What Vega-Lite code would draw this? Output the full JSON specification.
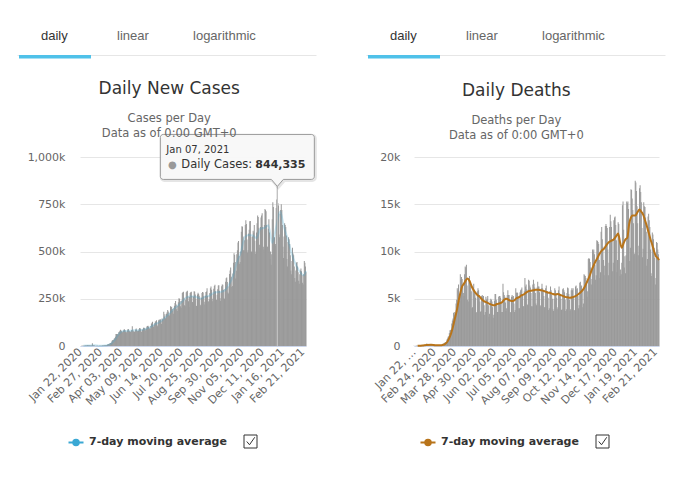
{
"$schema": "https://vega.github.io/schema/vega-lite/v6.json",
"background": "white",
"padding": {"left": 17, "top": 17, "right": 0, "bottom": 0},
"config": {
 "view": {"stroke": null},
 "font": "DejaVu Sans",
 "axis": {"labelFont": "DejaVu Sans", "labelFontSize": 11, "labelColor": "#666666", "labelOverlap": false},
 "title": {"font": "DejaVu Sans", "fontSize": 17, "fontWeight": "normal", "color": "#333333", "subtitleFont": "DejaVu Sans", "subtitleFontSize": 11.5, "subtitleColor": "#666666", "subtitleLineHeight": 15, "subtitlePadding": 15, "offset": 9, "anchor": "middle", "frame": "bounds"}
},
"datasets": {
"daily": [
{"date":"2020-01-22","cases":580,"deaths":17},{"date":"2020-01-23","cases":100,"deaths":1},{"date":"2020-01-24","cases":580,"deaths":8},{"date":"2020-01-25","cases":700,"deaths":16},{"date":"2020-01-26","cases":780,"deaths":14},{"date":"2020-01-27","cases":1480,"deaths":26},{"date":"2020-01-28","cases":1750,"deaths":26},
{"date":"2020-01-29","cases":1750,"deaths":38},{"date":"2020-01-30","cases":1980,"deaths":43},{"date":"2020-01-31","cases":2100,"deaths":46},{"date":"2020-02-01","cases":2600,"deaths":45},{"date":"2020-02-02","cases":2800,"deaths":57},{"date":"2020-02-03","cases":3200,"deaths":64},{"date":"2020-02-04","cases":3900,"deaths":66},
{"date":"2020-02-05","cases":3700,"deaths":73},{"date":"2020-02-06","cases":3200,"deaths":73},{"date":"2020-02-07","cases":3400,"deaths":86},{"date":"2020-02-08","cases":2700,"deaths":89},{"date":"2020-02-09","cases":3000,"deaths":97},{"date":"2020-02-10","cases":2500,"deaths":108},{"date":"2020-02-11","cases":2000,"deaths":97},
{"date":"2020-02-12","cases":2050,"deaths":254},{"date":"2020-02-13","cases":15150,"deaths":13},{"date":"2020-02-14","cases":5100,"deaths":143},{"date":"2020-02-15","cases":2600,"deaths":142},{"date":"2020-02-16","cases":2100,"deaths":106},{"date":"2020-02-17","cases":2100,"deaths":98},{"date":"2020-02-18","cases":1900,"deaths":139},
{"date":"2020-02-19","cases":550,"deaths":115},{"date":"2020-02-20","cases":1000,"deaths":125},{"date":"2020-02-21","cases":1000,"deaths":4},{"date":"2020-02-22","cases":1700,"deaths":207},{"date":"2020-02-23","cases":1400,"deaths":11},{"date":"2020-02-24","cases":600,"deaths":160},{"date":"2020-02-25","cases":900,"deaths":80},
{"date":"2020-02-26","cases":1100,"deaths":59},{"date":"2020-02-27","cases":1400,"deaths":44},{"date":"2020-02-28","cases":1900,"deaths":60},{"date":"2020-02-29","cases":1800,"deaths":68},{"date":"2020-03-01","cases":1900,"deaths":69},{"date":"2020-03-02","cases":2200,"deaths":72},{"date":"2020-03-03","cases":2400,"deaths":95},
{"date":"2020-03-04","cases":2600,"deaths":86},{"date":"2020-03-05","cases":2800,"deaths":98},{"date":"2020-03-06","cases":4000,"deaths":101},{"date":"2020-03-07","cases":3900,"deaths":103},{"date":"2020-03-08","cases":4000,"deaths":102},{"date":"2020-03-09","cases":4000,"deaths":207},{"date":"2020-03-10","cases":4500,"deaths":230},
{"date":"2020-03-11","cases":7500,"deaths":272},{"date":"2020-03-12","cases":7800,"deaths":339},{"date":"2020-03-13","cases":11000,"deaths":347},{"date":"2020-03-14","cases":11000,"deaths":433},{"date":"2020-03-15","cases":13300,"deaths":421},{"date":"2020-03-16","cases":16500,"deaths":677},{"date":"2020-03-17","cases":14000,"deaths":798},
{"date":"2020-03-18","cases":18000,"deaths":968},{"date":"2020-03-19","cases":28000,"deaths":1039},{"date":"2020-03-20","cases":31000,"deaths":1380},{"date":"2020-03-21","cases":32000,"deaths":1654},{"date":"2020-03-22","cases":33000,"deaths":1690},{"date":"2020-03-23","cases":40000,"deaths":1750},{"date":"2020-03-24","cases":41000,"deaths":2371},
{"date":"2020-03-25","cases":49000,"deaths":2700},{"date":"2020-03-26","cases":63000,"deaths":2900},{"date":"2020-03-27","cases":64000,"deaths":3500},{"date":"2020-03-28","cases":64000,"deaths":3600},{"date":"2020-03-29","cases":62000,"deaths":3300},{"date":"2020-03-30","cases":62000,"deaths":3200},{"date":"2020-03-31","cases":73000,"deaths":4500},
{"date":"2020-04-01","cases":76000,"deaths":4900},{"date":"2020-04-02","cases":81000,"deaths":6100},{"date":"2020-04-03","cases":86000,"deaths":5900},{"date":"2020-04-04","cases":82000,"deaths":6500},{"date":"2020-04-05","cases":78000,"deaths":5000},{"date":"2020-04-06","cases":72000,"deaths":4800},{"date":"2020-04-07","cases":76000,"deaths":7600},
{"date":"2020-04-08","cases":80000,"deaths":7000},{"date":"2020-04-09","cases":86000,"deaths":7300},{"date":"2020-04-10","cases":89000,"deaths":7100},{"date":"2020-04-11","cases":84000,"deaths":6300},{"date":"2020-04-12","cases":77000,"deaths":5600},{"date":"2020-04-13","cases":71000,"deaths":5300},{"date":"2020-04-14","cases":73000,"deaths":7600},
{"date":"2020-04-15","cases":80000,"deaths":8400},{"date":"2020-04-16","cases":87000,"deaths":8300},{"date":"2020-04-17","cases":90000,"deaths":8600},{"date":"2020-04-18","cases":82000,"deaths":6400},{"date":"2020-04-19","cases":78000,"deaths":4900},{"date":"2020-04-20","cases":73000,"deaths":4700},{"date":"2020-04-21","cases":75000,"deaths":7000},
{"date":"2020-04-22","cases":79000,"deaths":7400},{"date":"2020-04-23","cases":85000,"deaths":6700},{"date":"2020-04-24","cases":105000,"deaths":6400},{"date":"2020-04-25","cases":86000,"deaths":5800},{"date":"2020-04-26","cases":78000,"deaths":4000},{"date":"2020-04-27","cases":72000,"deaths":4100},{"date":"2020-04-28","cases":75000,"deaths":6200},
{"date":"2020-04-29","cases":78000,"deaths":6600},{"date":"2020-04-30","cases":87000,"deaths":5700},{"date":"2020-05-01","cases":92000,"deaths":5600},{"date":"2020-05-02","cases":85000,"deaths":5100},{"date":"2020-05-03","cases":79000,"deaths":3500},{"date":"2020-05-04","cases":76000,"deaths":3600},{"date":"2020-05-05","cases":81000,"deaths":5800},
{"date":"2020-05-06","cases":88000,"deaths":6100},{"date":"2020-05-07","cases":95000,"deaths":5900},{"date":"2020-05-08","cases":94000,"deaths":5400},{"date":"2020-05-09","cases":88000,"deaths":4700},{"date":"2020-05-10","cases":76000,"deaths":3600},{"date":"2020-05-11","cases":76000,"deaths":3700},{"date":"2020-05-12","cases":86000,"deaths":5300},
{"date":"2020-05-13","cases":88000,"deaths":5400},{"date":"2020-05-14","cases":97000,"deaths":5200},{"date":"2020-05-15","cases":97000,"deaths":5300},{"date":"2020-05-16","cases":94000,"deaths":4300},{"date":"2020-05-17","cases":81000,"deaths":3300},{"date":"2020-05-18","cases":89000,"deaths":3600},{"date":"2020-05-19","cases":92000,"deaths":5200},
{"date":"2020-05-20","cases":103000,"deaths":4900},{"date":"2020-05-21","cases":106000,"deaths":5000},{"date":"2020-05-22","cases":107000,"deaths":5300},{"date":"2020-05-23","cases":102000,"deaths":4300},{"date":"2020-05-24","cases":96000,"deaths":3100},{"date":"2020-05-25","cases":90000,"deaths":3400},{"date":"2020-05-26","cases":93000,"deaths":4800},
{"date":"2020-05-27","cases":106000,"deaths":5000},{"date":"2020-05-28","cases":118000,"deaths":4900},{"date":"2020-05-29","cases":123000,"deaths":4700},{"date":"2020-05-30","cases":128000,"deaths":4100},{"date":"2020-05-31","cases":109000,"deaths":3000},{"date":"2020-06-01","cases":100000,"deaths":3300},{"date":"2020-06-02","cases":112000,"deaths":4800},
{"date":"2020-06-03","cases":120000,"deaths":5500},{"date":"2020-06-04","cases":130000,"deaths":5500},{"date":"2020-06-05","cases":130000,"deaths":4900},{"date":"2020-06-06","cases":136000,"deaths":4400},{"date":"2020-06-07","cases":110000,"deaths":3600},{"date":"2020-06-08","cases":105000,"deaths":3600},{"date":"2020-06-09","cases":125000,"deaths":5200},
{"date":"2020-06-10","cases":136000,"deaths":5300},{"date":"2020-06-11","cases":140000,"deaths":5300},{"date":"2020-06-12","cases":136000,"deaths":5100},{"date":"2020-06-13","cases":142000,"deaths":4600},{"date":"2020-06-14","cases":133000,"deaths":3600},{"date":"2020-06-15","cases":117000,"deaths":3600},{"date":"2020-06-16","cases":145000,"deaths":6600},
{"date":"2020-06-17","cases":140000,"deaths":5700},{"date":"2020-06-18","cases":141000,"deaths":5400},{"date":"2020-06-19","cases":181000,"deaths":5200},{"date":"2020-06-20","cases":156000,"deaths":4600},{"date":"2020-06-21","cases":168000,"deaths":3700},{"date":"2020-06-22","cases":146000,"deaths":4000},{"date":"2020-06-23","cases":150000,"deaths":5400},
{"date":"2020-06-24","cases":170000,"deaths":5900},{"date":"2020-06-25","cases":178000,"deaths":5400},{"date":"2020-06-26","cases":190000,"deaths":5400},{"date":"2020-06-27","cases":183000,"deaths":5000},{"date":"2020-06-28","cases":163000,"deaths":3600},{"date":"2020-06-29","cases":162000,"deaths":3500},{"date":"2020-06-30","cases":173000,"deaths":5200},
{"date":"2020-07-01","cases":210000,"deaths":5400},{"date":"2020-07-02","cases":205000,"deaths":5200},{"date":"2020-07-03","cases":208000,"deaths":5300},{"date":"2020-07-04","cases":196000,"deaths":4500},{"date":"2020-07-05","cases":187000,"deaths":3600},{"date":"2020-07-06","cases":170000,"deaths":3800},{"date":"2020-07-07","cases":200000,"deaths":6100},
{"date":"2020-07-08","cases":213000,"deaths":5600},{"date":"2020-07-09","cases":228000,"deaths":5700},{"date":"2020-07-10","cases":238000,"deaths":5600},{"date":"2020-07-11","cases":220000,"deaths":5300},{"date":"2020-07-12","cases":194000,"deaths":4000},{"date":"2020-07-13","cases":185000,"deaths":4000},{"date":"2020-07-14","cases":213000,"deaths":5700},
{"date":"2020-07-15","cases":231000,"deaths":5900},{"date":"2020-07-16","cases":252000,"deaths":6000},{"date":"2020-07-17","cases":250000,"deaths":6200},{"date":"2020-07-18","cases":238000,"deaths":5500},{"date":"2020-07-19","cases":210000,"deaths":4200},{"date":"2020-07-20","cases":203000,"deaths":4200},{"date":"2020-07-21","cases":240000,"deaths":5800},
{"date":"2020-07-22","cases":280000,"deaths":7200},{"date":"2020-07-23","cases":284000,"deaths":6300},{"date":"2020-07-24","cases":287000,"deaths":6500},{"date":"2020-07-25","cases":255000,"deaths":6000},{"date":"2020-07-26","cases":216000,"deaths":4400},{"date":"2020-07-27","cases":210000,"deaths":4300},{"date":"2020-07-28","cases":245000,"deaths":7000},
{"date":"2020-07-29","cases":285000,"deaths":6900},{"date":"2020-07-30","cases":289000,"deaths":6400},{"date":"2020-07-31","cases":292000,"deaths":6200},{"date":"2020-08-01","cases":262000,"deaths":5600},{"date":"2020-08-02","cases":237000,"deaths":4200},{"date":"2020-08-03","cases":207000,"deaths":4200},{"date":"2020-08-04","cases":260000,"deaths":6500},
{"date":"2020-08-05","cases":281000,"deaths":7000},{"date":"2020-08-06","cases":284000,"deaths":6600},{"date":"2020-08-07","cases":287000,"deaths":6200},{"date":"2020-08-08","cases":264000,"deaths":5600},{"date":"2020-08-09","cases":233000,"deaths":4500},{"date":"2020-08-10","cases":225000,"deaths":4300},{"date":"2020-08-11","cases":262000,"deaths":6200},
{"date":"2020-08-12","cases":290000,"deaths":6800},{"date":"2020-08-13","cases":287000,"deaths":6300},{"date":"2020-08-14","cases":273000,"deaths":6300},{"date":"2020-08-15","cases":250000,"deaths":5700},{"date":"2020-08-16","cases":212000,"deaths":4300},{"date":"2020-08-17","cases":213000,"deaths":4200},{"date":"2020-08-18","cases":272000,"deaths":6100},
{"date":"2020-08-19","cases":282000,"deaths":6600},{"date":"2020-08-20","cases":275000,"deaths":6100},{"date":"2020-08-21","cases":266000,"deaths":5900},{"date":"2020-08-22","cases":252000,"deaths":5300},{"date":"2020-08-23","cases":218000,"deaths":4100},{"date":"2020-08-24","cases":210000,"deaths":4100},{"date":"2020-08-25","cases":255000,"deaths":6100},
{"date":"2020-08-26","cases":281000,"deaths":6400},{"date":"2020-08-27","cases":286000,"deaths":5800},{"date":"2020-08-28","cases":283000,"deaths":5600},{"date":"2020-08-29","cases":263000,"deaths":5100},{"date":"2020-08-30","cases":220000,"deaths":3800},{"date":"2020-08-31","cases":234000,"deaths":4000},{"date":"2020-09-01","cases":266000,"deaths":5800},
{"date":"2020-09-02","cases":286000,"deaths":6300},{"date":"2020-09-03","cases":288000,"deaths":5900},{"date":"2020-09-04","cases":306000,"deaths":5400},{"date":"2020-09-05","cases":264000,"deaths":5000},{"date":"2020-09-06","cases":235000,"deaths":3900},{"date":"2020-09-07","cases":235000,"deaths":3700},{"date":"2020-09-08","cases":247000,"deaths":5000},
{"date":"2020-09-09","cases":280000,"deaths":6100},{"date":"2020-09-10","cases":305000,"deaths":5900},{"date":"2020-09-11","cases":315000,"deaths":5600},{"date":"2020-09-12","cases":298000,"deaths":5100},{"date":"2020-09-13","cases":250000,"deaths":3900},{"date":"2020-09-14","cases":237000,"deaths":4100},{"date":"2020-09-15","cases":276000,"deaths":5900},
{"date":"2020-09-16","cases":303000,"deaths":6300},{"date":"2020-09-17","cases":318000,"deaths":5600},{"date":"2020-09-18","cases":324000,"deaths":5500},{"date":"2020-09-19","cases":290000,"deaths":5000},{"date":"2020-09-20","cases":245000,"deaths":3800},{"date":"2020-09-21","cases":243000,"deaths":3900},{"date":"2020-09-22","cases":271000,"deaths":6000},
{"date":"2020-09-23","cases":300000,"deaths":6100},{"date":"2020-09-24","cases":320000,"deaths":5900},{"date":"2020-09-25","cases":322000,"deaths":5700},{"date":"2020-09-26","cases":292000,"deaths":4900},{"date":"2020-09-27","cases":254000,"deaths":3700},{"date":"2020-09-28","cases":239000,"deaths":3900},{"date":"2020-09-29","cases":283000,"deaths":5600},
{"date":"2020-09-30","cases":316000,"deaths":6200},{"date":"2020-10-01","cases":326000,"deaths":6100},{"date":"2020-10-02","cases":324000,"deaths":5500},{"date":"2020-10-03","cases":297000,"deaths":4900},{"date":"2020-10-04","cases":254000,"deaths":3700},{"date":"2020-10-05","cases":249000,"deaths":3900},{"date":"2020-10-06","cases":302000,"deaths":5900},
{"date":"2020-10-07","cases":340000,"deaths":6100},{"date":"2020-10-08","cases":358000,"deaths":5900},{"date":"2020-10-09","cases":363000,"deaths":6100},{"date":"2020-10-10","cases":338000,"deaths":5100},{"date":"2020-10-11","cases":283000,"deaths":3800},{"date":"2020-10-12","cases":278000,"deaths":3700},{"date":"2020-10-13","cases":315000,"deaths":6300},
{"date":"2020-10-14","cases":381000,"deaths":6400},{"date":"2020-10-15","cases":400000,"deaths":6000},{"date":"2020-10-16","cases":416000,"deaths":6100},{"date":"2020-10-17","cases":367000,"deaths":5300},{"date":"2020-10-18","cases":312000,"deaths":4000},{"date":"2020-10-19","cases":318000,"deaths":4300},{"date":"2020-10-20","cases":384000,"deaths":6700},
{"date":"2020-10-21","cases":441000,"deaths":6800},{"date":"2020-10-22","cases":491000,"deaths":6300},{"date":"2020-10-23","cases":481000,"deaths":6400},{"date":"2020-10-24","cases":445000,"deaths":5900},{"date":"2020-10-25","cases":357000,"deaths":4100},{"date":"2020-10-26","cases":398000,"deaths":4500},{"date":"2020-10-27","cases":485000,"deaths":7600},
{"date":"2020-10-28","cases":506000,"deaths":7500},{"date":"2020-10-29","cases":547000,"deaths":7400},{"date":"2020-10-30","cases":555000,"deaths":7200},{"date":"2020-10-31","cases":477000,"deaths":6600},{"date":"2020-11-01","cases":435000,"deaths":5200},{"date":"2020-11-02","cases":445000,"deaths":5800},{"date":"2020-11-03","cases":500000,"deaths":9200},
{"date":"2020-11-04","cases":604000,"deaths":9300},{"date":"2020-11-05","cases":633000,"deaths":9200},{"date":"2020-11-06","cases":631000,"deaths":8900},{"date":"2020-11-07","cases":580000,"deaths":8300},{"date":"2020-11-08","cases":506000,"deaths":6500},{"date":"2020-11-09","cases":506000,"deaths":7100},{"date":"2020-11-10","cases":560000,"deaths":10200},
{"date":"2020-11-11","cases":640000,"deaths":10000},{"date":"2020-11-12","cases":665000,"deaths":10200},{"date":"2020-11-13","cases":646000,"deaths":9700},{"date":"2020-11-14","cases":563000,"deaths":8600},{"date":"2020-11-15","cases":495000,"deaths":7000},{"date":"2020-11-16","cases":506000,"deaths":7500},{"date":"2020-11-17","cases":595000,"deaths":11200},
{"date":"2020-11-18","cases":615000,"deaths":11100},{"date":"2020-11-19","cases":660000,"deaths":11000},{"date":"2020-11-20","cases":661000,"deaths":10800},{"date":"2020-11-21","cases":578000,"deaths":9100},{"date":"2020-11-22","cases":500000,"deaths":7200},{"date":"2020-11-23","cases":496000,"deaths":7800},{"date":"2020-11-24","cases":580000,"deaths":12100},
{"date":"2020-11-25","cases":610000,"deaths":12600},{"date":"2020-11-26","cases":600000,"deaths":11300},{"date":"2020-11-27","cases":640000,"deaths":10500},{"date":"2020-11-28","cases":557000,"deaths":9100},{"date":"2020-11-29","cases":488000,"deaths":7500},{"date":"2020-11-30","cases":500000,"deaths":8500},{"date":"2020-12-01","cases":600000,"deaths":12700},
{"date":"2020-12-02","cases":650000,"deaths":12900},{"date":"2020-12-03","cases":690000,"deaths":12700},{"date":"2020-12-04","cases":683000,"deaths":12500},{"date":"2020-12-05","cases":626000,"deaths":10200},{"date":"2020-12-06","cases":536000,"deaths":7500},{"date":"2020-12-07","cases":520000,"deaths":8800},{"date":"2020-12-08","cases":630000,"deaths":12600},
{"date":"2020-12-09","cases":680000,"deaths":13900},{"date":"2020-12-10","cases":690000,"deaths":13200},{"date":"2020-12-11","cases":702000,"deaths":12600},{"date":"2020-12-12","cases":630000,"deaths":11100},{"date":"2020-12-13","cases":525000,"deaths":7900},{"date":"2020-12-14","cases":510000,"deaths":8800},{"date":"2020-12-15","cases":640000,"deaths":13300},
{"date":"2020-12-16","cases":725000,"deaths":13600},{"date":"2020-12-17","cases":720000,"deaths":13700},{"date":"2020-12-18","cases":713000,"deaths":12800},{"date":"2020-12-19","cases":640000,"deaths":11200},{"date":"2020-12-20","cases":525000,"deaths":7800},{"date":"2020-12-21","cases":525000,"deaths":9100},{"date":"2020-12-22","cases":620000,"deaths":13100},
{"date":"2020-12-23","cases":670000,"deaths":12900},{"date":"2020-12-24","cases":600000,"deaths":11400},{"date":"2020-12-25","cases":460000,"deaths":7400},{"date":"2020-12-26","cases":500000,"deaths":8100},{"date":"2020-12-27","cases":430000,"deaths":7600},{"date":"2020-12-28","cases":485000,"deaths":8800},{"date":"2020-12-29","cases":670000,"deaths":14900},
{"date":"2020-12-30","cases":760000,"deaths":15300},{"date":"2020-12-31","cases":736000,"deaths":12300},{"date":"2021-01-01","cases":540000,"deaths":8300},{"date":"2021-01-02","cases":575000,"deaths":9500},{"date":"2021-01-03","cases":530000,"deaths":7700},{"date":"2021-01-04","cases":540000,"deaths":9600},{"date":"2021-01-05","cases":730000,"deaths":15300},
{"date":"2021-01-06","cases":775000,"deaths":15100},{"date":"2021-01-07","cases":844335,"deaths":15300},{"date":"2021-01-08","cases":757000,"deaths":14500},{"date":"2021-01-09","cases":744000,"deaths":12900},{"date":"2021-01-10","cases":590000,"deaths":9000},{"date":"2021-01-11","cases":575000,"deaths":10400},{"date":"2021-01-12","cases":700000,"deaths":16600},
{"date":"2021-01-13","cases":720000,"deaths":16500},{"date":"2021-01-14","cases":750000,"deaths":15600},{"date":"2021-01-15","cases":720000,"deaths":14400},{"date":"2021-01-16","cases":640000,"deaths":13000},{"date":"2021-01-17","cases":525000,"deaths":9600},{"date":"2021-01-18","cases":465000,"deaths":9800},{"date":"2021-01-19","cases":580000,"deaths":17500},
{"date":"2021-01-20","cases":650000,"deaths":17300},{"date":"2021-01-21","cases":640000,"deaths":16400},{"date":"2021-01-22","cases":630000,"deaths":14800},{"date":"2021-01-23","cases":585000,"deaths":13000},{"date":"2021-01-24","cases":460000,"deaths":9600},{"date":"2021-01-25","cases":420000,"deaths":10600},{"date":"2021-01-26","cases":550000,"deaths":16700},
{"date":"2021-01-27","cases":575000,"deaths":17000},{"date":"2021-01-28","cases":565000,"deaths":16300},{"date":"2021-01-29","cases":540000,"deaths":15200},{"date":"2021-01-30","cases":480000,"deaths":12500},{"date":"2021-01-31","cases":400000,"deaths":9400},{"date":"2021-02-01","cases":380000,"deaths":10300},{"date":"2021-02-02","cases":450000,"deaths":15200},
{"date":"2021-02-03","cases":520000,"deaths":14800},{"date":"2021-02-04","cases":490000,"deaths":14700},{"date":"2021-02-05","cases":480000,"deaths":13600},{"date":"2021-02-06","cases":420000,"deaths":12100},{"date":"2021-02-07","cases":360000,"deaths":8500},{"date":"2021-02-08","cases":340000,"deaths":9200},{"date":"2021-02-09","cases":400000,"deaths":13700},
{"date":"2021-02-10","cases":440000,"deaths":14000},{"date":"2021-02-11","cases":445000,"deaths":13300},{"date":"2021-02-12","cases":420000,"deaths":12600},{"date":"2021-02-13","cases":390000,"deaths":10200},{"date":"2021-02-14","cases":345000,"deaths":7700},{"date":"2021-02-15","cases":330000,"deaths":7400},{"date":"2021-02-16","cases":380000,"deaths":12000},
{"date":"2021-02-17","cases":400000,"deaths":11800},{"date":"2021-02-18","cases":410000,"deaths":11300},{"date":"2021-02-19","cases":395000,"deaths":10400},{"date":"2021-02-20","cases":375000,"deaths":9300},{"date":"2021-02-21","cases":335000,"deaths":6500},{"date":"2021-02-22","cases":325000,"deaths":7200},{"date":"2021-02-23","cases":380000,"deaths":11000},
{"date":"2021-02-24","cases":450000,"deaths":10900},{"date":"2021-02-25","cases":440000,"deaths":10200},{"date":"2021-02-26","cases":420000,"deaths":9700},{"date":"2021-02-27","cases":390000,"deaths":9200}
],
"maCases": [
{"date":"2020-01-28","cases":870},{"date":"2020-02-04","cases":2620},{"date":"2020-02-11","cases":2930},{"date":"2020-02-18","cases":4430},{"date":"2020-02-25","cases":1020},{"date":"2020-03-03","cases":1810},{"date":"2020-03-10","cases":3690},{"date":"2020-03-17","cases":11590},{"date":"2020-03-24","cases":31860},{"date":"2020-03-31","cases":62430},{"date":"2020-04-07","cases":78710},{"date":"2020-04-14","cases":80000},{"date":"2020-04-21","cases":80710},{"date":"2020-04-28","cases":82860},{"date":"2020-05-05","cases":82570},{"date":"2020-05-12","cases":86140},{"date":"2020-05-19","cases":91140},{"date":"2020-05-26","cases":99570},{"date":"2020-06-02","cases":113710},{"date":"2020-06-09","cases":122290},{"date":"2020-06-16","cases":135570},{"date":"2020-06-23","cases":154570},{"date":"2020-06-30","cases":174140},{"date":"2020-07-07","cases":196570},{"date":"2020-07-14","cases":213000},{"date":"2020-07-21","cases":232000},{"date":"2020-07-28","cases":253860},{"date":"2020-08-04","cases":261710},{"date":"2020-08-11","cases":262290},{"date":"2020-08-18","cases":256710},{"date":"2020-08-25","cases":251140},{"date":"2020-09-01","cases":261860},{"date":"2020-09-08","cases":265860},{"date":"2020-09-15","cases":280140},{"date":"2020-09-22","cases":284860},{"date":"2020-09-29","cases":287140},{"date":"2020-10-06","cases":295430},{"date":"2020-10-13","cases":325000},{"date":"2020-10-20","cases":368290},{"date":"2020-10-27","cases":442570},{"date":"2020-11-03","cases":495000},{"date":"2020-11-10","cases":574290},{"date":"2020-11-17","cases":587140},{"date":"2020-11-24","cases":584290},{"date":"2020-12-01","cases":570710},{"date":"2020-12-08","cases":619290},{"date":"2020-12-15","cases":625290},{"date":"2020-12-22","cases":638290},{"date":"2020-12-29","cases":545000},{"date":"2021-01-05","cases":630140},{"date":"2021-01-12","cases":712190},{"date":"2021-01-19","cases":628570},{"date":"2021-01-26","cases":562140},{"date":"2021-02-02","cases":484290},{"date":"2021-02-09","cases":430000},{"date":"2021-02-16","cases":392860},{"date":"2021-02-23","cases":374290},{"date":"2021-02-27","cases":397000}
],
"maDeaths": [
{"date":"2020-01-28","deaths":15},{"date":"2020-02-05","deaths":55},{"date":"2020-02-12","deaths":110},{"date":"2020-02-19","deaths":120},{"date":"2020-02-26","deaths":80},{"date":"2020-03-04","deaths":70},{"date":"2020-03-10","deaths":130},{"date":"2020-03-14","deaths":270},{"date":"2020-03-17","deaths":480},{"date":"2020-03-20","deaths":850},{"date":"2020-03-23","deaths":1350},{"date":"2020-03-26","deaths":2050},{"date":"2020-03-29","deaths":2900},{"date":"2020-04-01","deaths":3700},{"date":"2020-04-04","deaths":4700},{"date":"2020-04-07","deaths":5600},{"date":"2020-04-10","deaths":6300},{"date":"2020-04-13","deaths":6600},{"date":"2020-04-16","deaths":6950},{"date":"2020-04-19","deaths":7150},{"date":"2020-04-22","deaths":6900},{"date":"2020-04-25","deaths":6400},{"date":"2020-04-28","deaths":6000},{"date":"2020-05-01","deaths":5700},{"date":"2020-05-05","deaths":5400},{"date":"2020-05-09","deaths":5200},{"date":"2020-05-13","deaths":4900},{"date":"2020-05-17","deaths":4700},{"date":"2020-05-21","deaths":4600},{"date":"2020-05-25","deaths":4450},{"date":"2020-05-29","deaths":4350},{"date":"2020-06-02","deaths":4300},{"date":"2020-06-06","deaths":4450},{"date":"2020-06-10","deaths":4500},{"date":"2020-06-14","deaths":4600},{"date":"2020-06-18","deaths":4900},{"date":"2020-06-22","deaths":5000},{"date":"2020-06-26","deaths":4850},{"date":"2020-06-30","deaths":4750},{"date":"2020-07-04","deaths":4800},{"date":"2020-07-08","deaths":5050},{"date":"2020-07-12","deaths":5150},{"date":"2020-07-16","deaths":5350},{"date":"2020-07-20","deaths":5450},{"date":"2020-07-24","deaths":5650},{"date":"2020-07-28","deaths":5800},{"date":"2020-08-01","deaths":5850},{"date":"2020-08-05","deaths":5900},{"date":"2020-08-09","deaths":5950},{"date":"2020-08-13","deaths":5950},{"date":"2020-08-17","deaths":5900},{"date":"2020-08-21","deaths":5850},{"date":"2020-08-25","deaths":5750},{"date":"2020-08-29","deaths":5650},{"date":"2020-09-02","deaths":5600},{"date":"2020-09-06","deaths":5500},{"date":"2020-09-10","deaths":5450},{"date":"2020-09-14","deaths":5500},{"date":"2020-09-18","deaths":5400},{"date":"2020-09-22","deaths":5300},{"date":"2020-09-26","deaths":5200},{"date":"2020-09-30","deaths":5150},{"date":"2020-10-04","deaths":5100},{"date":"2020-10-08","deaths":5150},{"date":"2020-10-12","deaths":5250},{"date":"2020-10-16","deaths":5400},{"date":"2020-10-20","deaths":5600},{"date":"2020-10-24","deaths":5850},{"date":"2020-10-28","deaths":6250},{"date":"2020-11-01","deaths":6800},{"date":"2020-11-05","deaths":7400},{"date":"2020-11-09","deaths":8100},{"date":"2020-11-13","deaths":8700},{"date":"2020-11-17","deaths":9200},{"date":"2020-11-21","deaths":9700},{"date":"2020-11-25","deaths":10100},{"date":"2020-11-29","deaths":10300},{"date":"2020-12-03","deaths":10700},{"date":"2020-12-07","deaths":11000},{"date":"2020-12-11","deaths":11150},{"date":"2020-12-15","deaths":11300},{"date":"2020-12-19","deaths":11650},{"date":"2020-12-22","deaths":11900},{"date":"2020-12-25","deaths":11000},{"date":"2020-12-28","deaths":10400},{"date":"2020-12-31","deaths":10900},{"date":"2021-01-03","deaths":11300},{"date":"2021-01-06","deaths":11450},{"date":"2021-01-09","deaths":12900},{"date":"2021-01-12","deaths":13600},{"date":"2021-01-15","deaths":13800},{"date":"2021-01-19","deaths":13800},{"date":"2021-01-23","deaths":14200},{"date":"2021-01-26","deaths":14450},{"date":"2021-01-29","deaths":14200},{"date":"2021-02-01","deaths":13900},{"date":"2021-02-04","deaths":13300},{"date":"2021-02-07","deaths":12700},{"date":"2021-02-10","deaths":12000},{"date":"2021-02-13","deaths":11300},{"date":"2021-02-16","deaths":10700},{"date":"2021-02-19","deaths":10000},{"date":"2021-02-22","deaths":9500},{"date":"2021-02-25","deaths":9300},{"date":"2021-02-27","deaths":9100}
]
},
"resolve": {"scale": {"color": "independent"}, "legend": {"color": "independent"}},
"spacing": 21,
"vconcat": [
{
 "spacing": -11,
 "hconcat": [
  {
   "width": 236, "height": 38,
   "data": {"values": [{"tab": "daily"}, {"tab": "linear"}, {"tab": "logarithmic"}]},
   "encoding": {"x": {"field": "tab", "type": "nominal", "sort": null, "scale": {"type": "band", "domain": ["daily", "linear", "logarithmic"], "range": [-63, 236], "paddingInner": 0, "paddingOuter": 0.467, "align": 0}, "axis": {"title": null, "labels": false, "ticks": false, "grid": false, "domain": true, "domainColor": "#e6e6e6", "domainWidth": 1}}},
   "layer": [
    {"transform": [{"filter": "datum.tab == 'daily'"}], "mark": {"type": "bar", "color": "#4fc1e9", "width": 72}, "encoding": {"y": {"datum": 0, "type": "quantitative", "scale": {"domain": [0, 1]}, "axis": null}, "y2": {"datum": -0.09}}},
    {"mark": {"type": "text", "align": "left", "baseline": "middle", "dx": -14, "font": "Liberation Sans", "fontSize": 13}, "encoding": {"text": {"field": "tab"}, "color": {"condition": {"test": "datum.tab == 'daily'", "value": "#333333"}, "value": "#666666"}}}
   ]
  },
  {
   "width": 236, "height": 38,
   "data": {"values": [{"tab": "daily"}, {"tab": "linear"}, {"tab": "logarithmic"}]},
   "encoding": {"x": {"field": "tab", "type": "nominal", "sort": null, "scale": {"type": "band", "domain": ["daily", "linear", "logarithmic"], "range": [-63, 236], "paddingInner": 0, "paddingOuter": 0.467, "align": 0}, "axis": {"title": null, "labels": false, "ticks": false, "grid": false, "domain": true, "domainColor": "#e6e6e6", "domainWidth": 1}}},
   "layer": [
    {"transform": [{"filter": "datum.tab == 'daily'"}], "mark": {"type": "bar", "color": "#4fc1e9", "width": 72}, "encoding": {"y": {"datum": 0, "type": "quantitative", "scale": {"domain": [0, 1]}, "axis": null}, "y2": {"datum": -0.09}}},
    {"mark": {"type": "text", "align": "left", "baseline": "middle", "dx": -14, "font": "Liberation Sans", "fontSize": 13}, "encoding": {"text": {"field": "tab"}, "color": {"condition": {"test": "datum.tab == 'daily'", "value": "#333333"}, "value": "#666666"}}}
   ]
  }
 ]
},
{
 "spacing": 47,
 "resolve": {"scale": {"color": "independent"}, "legend": {"color": "independent"}},
 "hconcat": [
  {
   "width": 226, "height": 189,
   "title": {"text": "Daily New Cases", "subtitle": ["Cases per Day", "Data as of 0:00 GMT+0"], "offset": -11.5},
   "layer": [
    {"data": {"name": "daily"}, "mark": {"type": "bar", "width": 1, "color": "#999999"},
     "encoding": {
      "x": {"field": "date", "type": "temporal", "scale": {"type": "utc", "nice": false, "padding": 0, "domain": [{"year": 2020, "month": 1, "date": 22, "utc": true}, {"year": 2021, "month": 2, "date": 27, "utc": true}]},
        "axis": {"title": null, "tickCount": 40, "values": [{"year":2020,"month":1,"date":22,"utc":true},{"year":2020,"month":2,"date":27,"utc":true},{"year":2020,"month":4,"date":3,"utc":true},{"year":2020,"month":5,"date":9,"utc":true},{"year":2020,"month":6,"date":14,"utc":true},{"year":2020,"month":7,"date":20,"utc":true},{"year":2020,"month":8,"date":25,"utc":true},{"year":2020,"month":9,"date":30,"utc":true},{"year":2020,"month":11,"date":5,"utc":true},{"year":2020,"month":12,"date":11,"utc":true},{"year":2021,"month":1,"date":16,"utc":true},{"year":2021,"month":2,"date":21,"utc":true}],
        "format": "%b %d, %Y", "labelAngle": -45, "labelAlign": "right", "labelBaseline": "middle", "labelPadding": 4, "labelOverlap": false, "labelFlush": false, "ticks": false, "grid": false, "domainColor": "#ccd6eb", "domainWidth": 1}},
      "y": {"field": "cases", "type": "quantitative", "scale": {"domain": [0, 1000000], "nice": false},
        "axis": {"title": " ", "titleFontSize": 10, "titlePadding": 0, "values": [0, 250000, 500000, 750000, 1000000], "labelExpr": "datum.value == 0 ? '0' : format(datum.value / 1000, ',') + 'k'", "ticks": false, "tickSize": 0, "domain": false, "grid": true, "gridColor": "#e6e6e6", "labelPadding": 15}}
     }},
    {"data": {"name": "maCases"}, "mark": {"type": "line", "strokeWidth": 2, "opacity": 0.25, "interpolate": "monotone"},
     "encoding": {
      "x": {"field": "date", "type": "temporal"},
      "y": {"field": "cases", "type": "quantitative"},
      "color": {"datum": "7-day moving average", "type": "nominal", "scale": {"domain": ["7-day moving average", "checkbox"], "range": ["#3aa8d4", "#333333"]},
        "legend": {"orient": "none", "legendX": -9.5, "legendY": 279, "direction": "horizontal", "title": null, "padding": 0, "symbolSize": 100, "symbolOpacity": 1, "labelOffset": 7.5, "columnPadding": 14.5, "labelFont": "DejaVu Sans", "labelFontSize": 11, "labelFontWeight": "bold", "labelColor": "#333333",
          "labelExpr": "datum.value == 'checkbox' ? '' : datum.label",
          "encode": {"symbols": {"update": {
            "shape": {"signal": "datum.value == 'checkbox' ? 'M-1.3,-1.3H1.3V1.3H-1.3ZM-0.75,0L-0.2,0.65L0.85,-0.85' : 'M-1.5,0H1.5M-0.55,0A0.55,0.55,0,1,1,0.55,0A0.55,0.55,0,1,1,-0.55,0Z'"},
            "fill": {"signal": "datum.value == 'checkbox' ? 'transparent' : '#3aa8d4'"},
            "stroke": {"signal": "datum.value == 'checkbox' ? '#333333' : '#3aa8d4'"},
            "strokeWidth": {"signal": "datum.value == 'checkbox' ? 1 : 2"},
            "opacity": {"value": 1}}}}}}
     }},
    {"data": {"name": "daily"}, "transform": [{"filter": "utcyear(datum.date) == 2021 && utcmonth(datum.date) == 0 && utcdate(datum.date) == 7"}],
     "encoding": {"x": {"field": "date", "type": "temporal"}, "y": {"field": "cases", "type": "quantitative"}},
     "layer": [
      {"mark": {"type": "bar", "width": 1, "fill": "#c8c8c8"}},
      {"mark": {"type": "point", "shape": "M-113,-51H35A3,3,0,0,1,38,-48V-9A3,3,0,0,1,35,-6H7L1,1L-5,-6H-113A3,3,0,0,1,-116,-9V-48A3,3,0,0,1,-113,-51Z", "size": 4, "filled": false, "stroke": "#000000", "strokeOpacity": 0.1, "strokeWidth": 3, "opacity": 1}},
      {"mark": {"type": "point", "shape": "M-114,-52H34A3,3,0,0,1,37,-49V-10A3,3,0,0,1,34,-7H6L0,0L-6,-7H-114A3,3,0,0,1,-117,-10V-49A3,3,0,0,1,-114,-52Z", "size": 4, "filled": true, "fill": "#f7f7f7", "fillOpacity": 0.93, "stroke": "#999999", "strokeWidth": 1, "opacity": 1}},
      {"mark": {"type": "text", "align": "left", "baseline": "middle", "dx": -111, "dy": -36, "fontSize": 10, "color": "#333333"}, "encoding": {"text": {"field": "date", "type": "temporal", "timeUnit": "utcyearmonthdate", "format": "%b %d, %Y"}}},
      {"mark": {"type": "text", "text": "●", "align": "center", "baseline": "middle", "dx": -105, "dy": -21, "fontSize": 10, "color": "#999999"}},
      {"mark": {"type": "text", "text": "Daily Cases:", "align": "left", "baseline": "middle", "dx": -96, "dy": -21, "fontSize": 11.5, "color": "#333333"}},
      {"mark": {"type": "text", "align": "left", "baseline": "middle", "dx": -22, "dy": -21, "fontSize": 11, "fontWeight": "bold", "color": "#333333"}, "encoding": {"text": {"field": "cases", "type": "quantitative", "format": ","}}}
     ]}
   ]
  },
  {
   "width": 245, "height": 189,
   "title": {"text": "Daily Deaths", "subtitle": ["Deaths per Day", "Data as of 0:00 GMT+0"]},
   "layer": [
    {"data": {"name": "daily"}, "mark": {"type": "bar", "width": 1, "color": "#999999"},
     "encoding": {
      "x": {"field": "date", "type": "temporal", "scale": {"type": "utc", "nice": false, "padding": 0, "domain": [{"year": 2020, "month": 1, "date": 22, "utc": true}, {"year": 2021, "month": 2, "date": 27, "utc": true}]},
        "axis": {"title": null, "tickCount": 40, "values": [{"year":2020,"month":1,"date":22,"utc":true},{"year":2020,"month":2,"date":24,"utc":true},{"year":2020,"month":3,"date":28,"utc":true},{"year":2020,"month":4,"date":30,"utc":true},{"year":2020,"month":6,"date":2,"utc":true},{"year":2020,"month":7,"date":5,"utc":true},{"year":2020,"month":8,"date":7,"utc":true},{"year":2020,"month":9,"date":9,"utc":true},{"year":2020,"month":10,"date":12,"utc":true},{"year":2020,"month":11,"date":14,"utc":true},{"year":2020,"month":12,"date":17,"utc":true},{"year":2021,"month":1,"date":19,"utc":true},{"year":2021,"month":2,"date":21,"utc":true}],
        "format": "%b %d, %Y", "labelExpr": "datum.label == 'Jan 22, 2020' ? 'Jan 22, …' : datum.label", "labelAngle": -45, "labelAlign": "right", "labelBaseline": "middle", "labelPadding": 4, "labelOverlap": false, "labelFlush": false, "ticks": false, "grid": false, "domainColor": "#ccd6eb", "domainWidth": 1}},
      "y": {"field": "deaths", "type": "quantitative", "scale": {"domain": [0, 20000], "nice": false},
        "axis": {"title": " ", "titleFontSize": 10, "titlePadding": 0, "values": [0, 5000, 10000, 15000, 20000], "labelExpr": "datum.value == 0 ? '0' : format(datum.value / 1000, ',') + 'k'", "ticks": false, "tickSize": 0, "domain": false, "grid": true, "gridColor": "#e6e6e6", "labelPadding": 14}}
     }},
    {"data": {"name": "maDeaths"}, "mark": {"type": "line", "strokeWidth": 2, "interpolate": "monotone"},
     "encoding": {
      "x": {"field": "date", "type": "temporal"},
      "y": {"field": "deaths", "type": "quantitative"},
      "color": {"datum": "7-day moving average", "type": "nominal", "scale": {"domain": ["7-day moving average", "checkbox"], "range": ["#b8741a", "#333333"]},
        "legend": {"orient": "none", "legendX": 8.5, "legendY": 279, "direction": "horizontal", "title": null, "padding": 0, "symbolSize": 100, "labelOffset": 7.5, "columnPadding": 14.5, "labelFont": "DejaVu Sans", "labelFontSize": 11, "labelFontWeight": "bold", "labelColor": "#333333",
          "labelExpr": "datum.value == 'checkbox' ? '' : datum.label",
          "encode": {"symbols": {"update": {
            "shape": {"signal": "datum.value == 'checkbox' ? 'M-1.3,-1.3H1.3V1.3H-1.3ZM-0.75,0L-0.2,0.65L0.85,-0.85' : 'M-1.5,0H1.5M-0.55,0A0.55,0.55,0,1,1,0.55,0A0.55,0.55,0,1,1,-0.55,0Z'"},
            "fill": {"signal": "datum.value == 'checkbox' ? 'transparent' : '#b8741a'"},
            "stroke": {"signal": "datum.value == 'checkbox' ? '#333333' : '#b8741a'"},
            "strokeWidth": {"signal": "datum.value == 'checkbox' ? 1 : 2"},
            "opacity": {"value": 1}}}}}}
     }}
   ]
  }
 ]
}
]
}
